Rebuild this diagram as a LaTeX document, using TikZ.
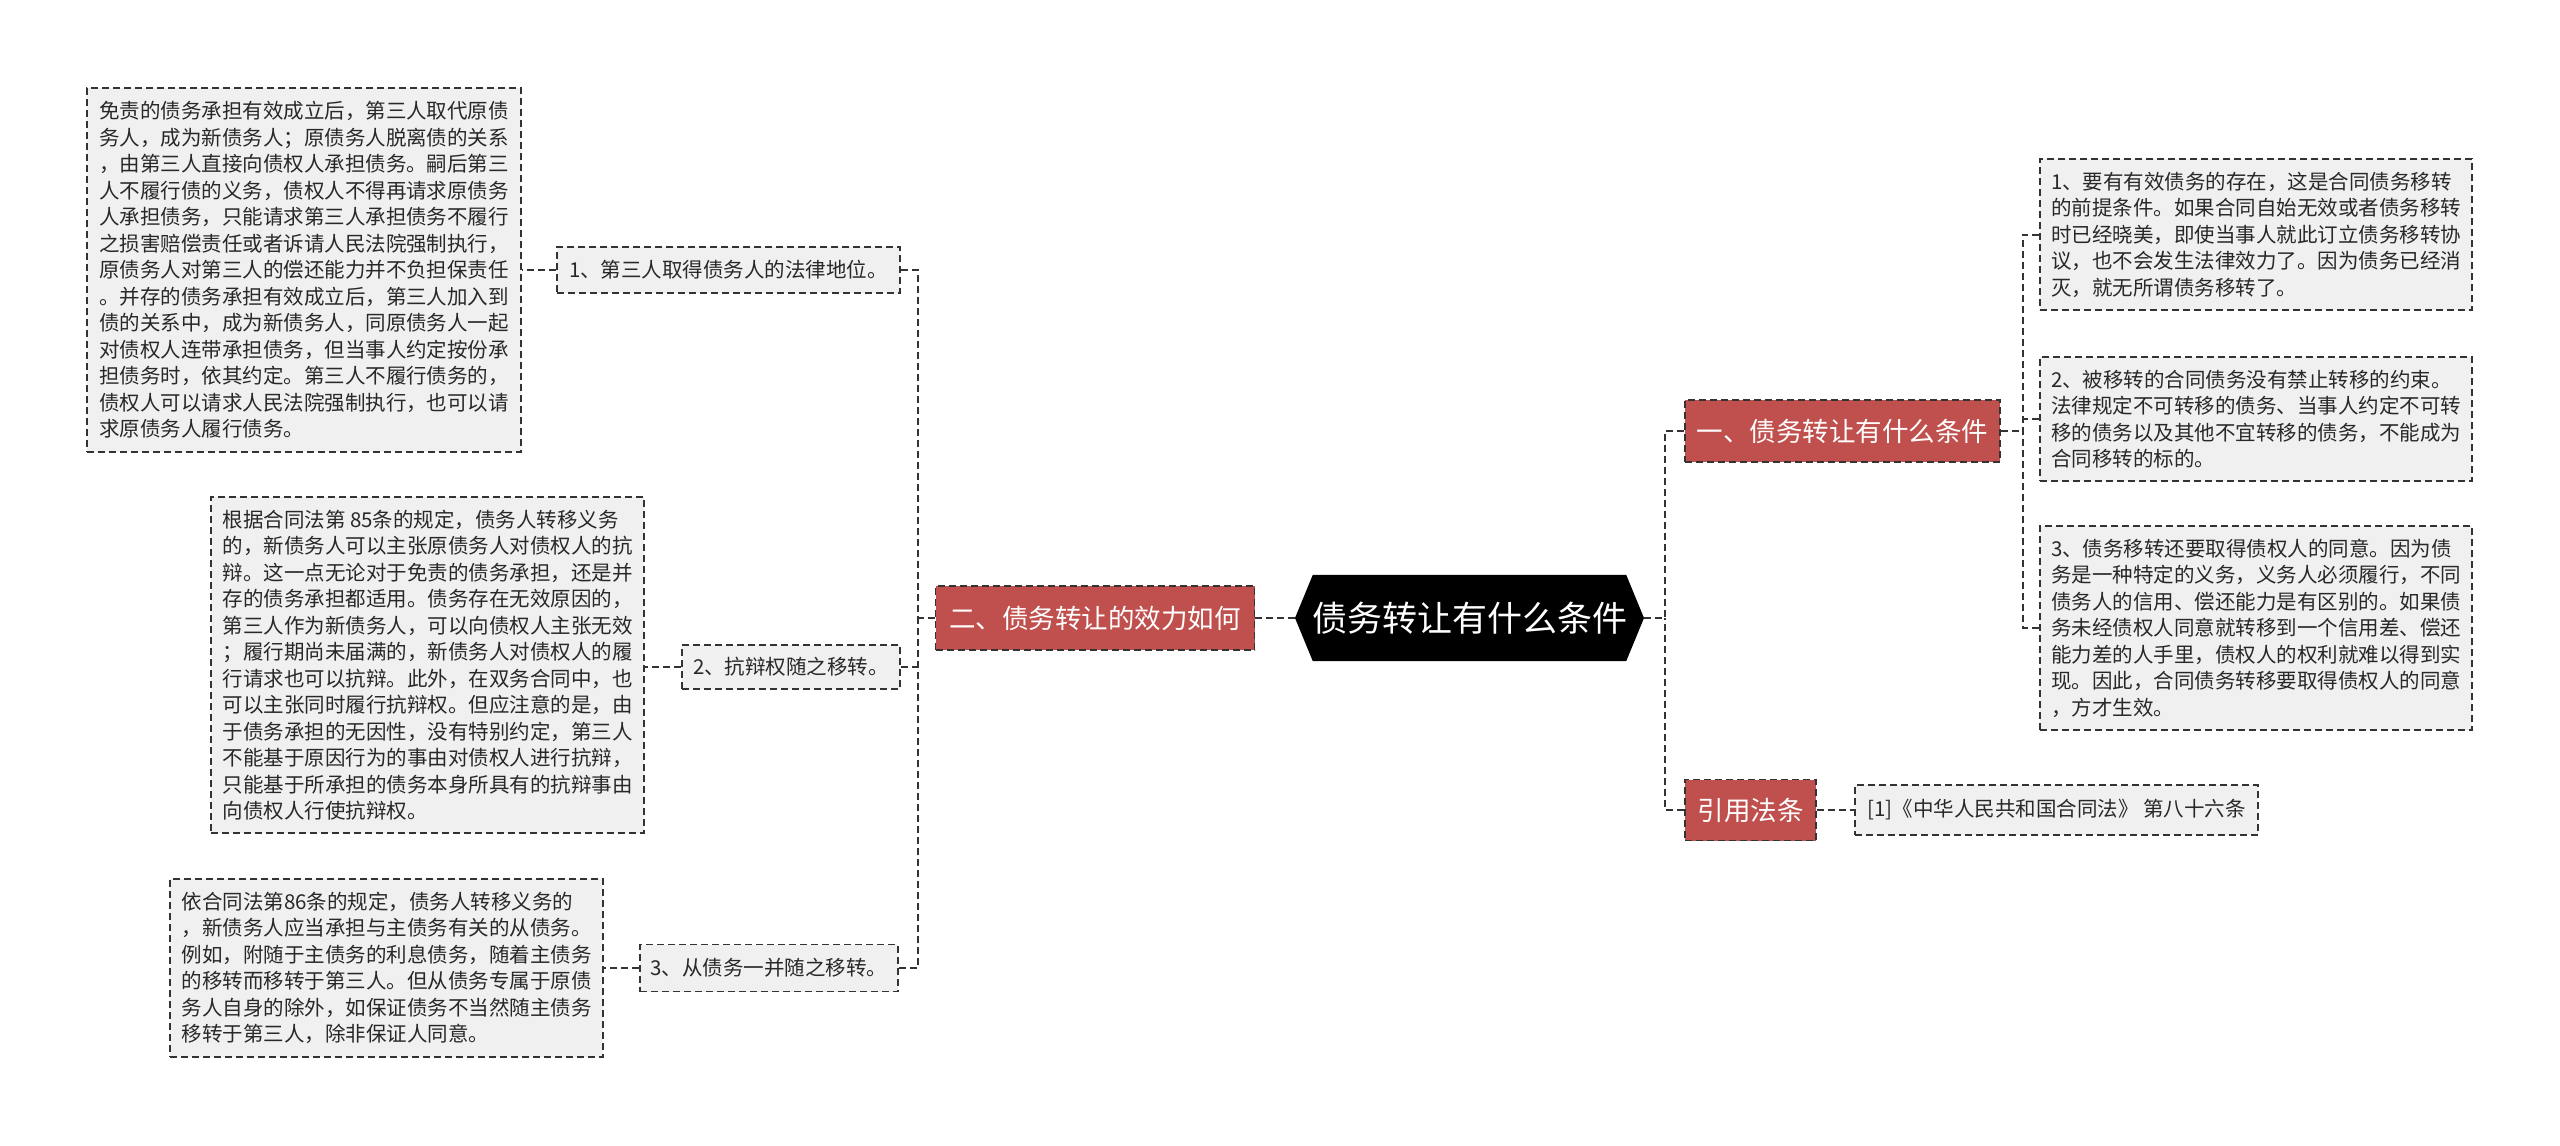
\documentclass[tikz,border=0pt]{standalone}
\usepackage{fontspec}
\newfontfamily\cjk{Noto Sans CJK SC}
\definecolor{redfill}{RGB}{192,80,77}
\definecolor{leaffill}{RGB}{240,240,240}
\definecolor{linec}{RGB}{51,51,51}
\definecolor{textc}{RGB}{40,40,40}
\begin{document}
\begin{tikzpicture}[x=1pt,y=-1pt,
  conn/.style={draw=linec, line width=2pt, dash pattern=on 7pt off 4pt},
  leaf/.style={draw=linec, fill=leaffill, line width=1.8pt, dash pattern=on 7pt off 4pt,
    font=\cjk\fontsize{20.5pt}{26.5pt}\selectfont, align=left, inner sep=0pt, text=textc},
  redbox/.style={draw=linec, fill=redfill, line width=1.8pt, dash pattern=on 7pt off 4pt,
    font=\cjk\fontsize{26.5pt}{32pt}\selectfont, text=white, inner sep=0pt},
  rootbox/.style={inner sep=0pt, font=\cjk\fontsize{35pt}{40pt}\selectfont, text=white}
]
\fill[white] (0,0) rectangle (2560,1146);
\useasboundingbox (0,0) rectangle (2560,1146);

% root
\node[rootbox, minimum width=313pt, minimum height=86pt] (root) at (1469.5,618) {};
\coordinate (rootL) at (1295,618);
\coordinate (rootR) at (1644,618);
\fill[black] (root.north west) -- (root.north east) -- (rootR) -- (root.south east) -- (root.south west) -- (rootL) -- cycle;
\node[rootbox] (roottext) at (1469.5,618) {债务转让有什么条件};

% level 1
\node[redbox, minimum width=319pt, minimum height=64pt] (two) at (1095,618) {二、债务转让的效力如何};
\node[redbox, minimum width=315pt, minimum height=62pt] (one) at (1842.5,431) {一、债务转让有什么条件};
\node[redbox, minimum width=131pt, minimum height=61pt] (ref) at (1750.5,810) {引用法条};

% left leaves
\node[leaf, minimum width=343pt, minimum height=46pt] (l1) at (728.5,270) {1、第三人取得债务人的法律地位。};
\node[leaf, minimum width=218pt, minimum height=44pt] (l2) at (791,667) {2、抗辩权随之移转。};
\node[leaf, minimum width=258pt, minimum height=47pt] (l3) at (769,968) {3、从债务一并随之移转。};

\node[leaf, minimum width=434pt, minimum height=364pt] (t1) at (304,270) {免责的债务承担有效成立后，第三人取代原债\\
务人，成为新债务人；原债务人脱离债的关系\\
，由第三人直接向债权人承担债务。嗣后第三\\
人不履行债的义务，债权人不得再请求原债务\\
人承担债务，只能请求第三人承担债务不履行\\
之损害赔偿责任或者诉请人民法院强制执行，\\
原债务人对第三人的偿还能力并不负担保责任\\
。并存的债务承担有效成立后，第三人加入到\\
债的关系中，成为新债务人，同原债务人一起\\
对债权人连带承担债务，但当事人约定按份承\\
担债务时，依其约定。第三人不履行债务的，\\
债权人可以请求人民法院强制执行，也可以请\\
求原债务人履行债务。};

\node[leaf, minimum width=433pt, minimum height=336pt] (t2) at (427.5,665) {根据合同法第 85条的规定，债务人转移义务\\
的，新债务人可以主张原债务人对债权人的抗\\
辩。这一点无论对于免责的债务承担，还是并\\
存的债务承担都适用。债务存在无效原因的，\\
第三人作为新债务人，可以向债权人主张无效\\
；履行期尚未届满的，新债务人对债权人的履\\
行请求也可以抗辩。此外，在双务合同中，也\\
可以主张同时履行抗辩权。但应注意的是，由\\
于债务承担的无因性，没有特别约定，第三人\\
不能基于原因行为的事由对债权人进行抗辩，\\
只能基于所承担的债务本身所具有的抗辩事由\\
向债权人行使抗辩权。};

\node[leaf, minimum width=433pt, minimum height=178pt] (t3) at (386.5,968) {依合同法第86条的规定，债务人转移义务的\\
，新债务人应当承担与主债务有关的从债务。\\
例如，附随于主债务的利息债务，随着主债务\\
的移转而移转于第三人。但从债务专属于原债\\
务人自身的除外，如保证债务不当然随主债务\\
移转于第三人，除非保证人同意。};

% right leaves
\node[leaf, minimum width=432pt, minimum height=151pt] (R1) at (2256,234.5) {1、要有有效债务的存在，这是合同债务移转\\
的前提条件。如果合同自始无效或者债务移转\\
时已经晓美，即使当事人就此订立债务移转协\\
议，也不会发生法律效力了。因为债务已经消\\
灭，就无所谓债务移转了。};
\node[leaf, minimum width=432pt, minimum height=124pt] (R2) at (2256,419) {2、被移转的合同债务没有禁止转移的约束。\\
法律规定不可转移的债务、当事人约定不可转\\
移的债务以及其他不宜转移的债务，不能成为\\
合同移转的标的。};
\node[leaf, minimum width=432pt, minimum height=204pt] (R3) at (2256,628) {3、债务移转还要取得债权人的同意。因为债\\
务是一种特定的义务，义务人必须履行，不同\\
债务人的信用、偿还能力是有区别的。如果债\\
务未经债权人同意就转移到一个信用差、偿还\\
能力差的人手里，债权人的权利就难以得到实\\
现。因此，合同债务转移要取得债权人的同意\\
，方才生效。};

\node[leaf, minimum width=403pt, minimum height=50pt] (cite) at (2056.5,810) {[1]《中华人民共和国合同法》 第八十六条};

% connectors
\coordinate (lb) at (918,618);
\coordinate (rb) at (1665,618);
\coordinate (rb2) at (2023,431);
\draw[conn] (rootL) -- (two.east);
\draw[conn] (two.west) -- (lb);
\draw[conn] (l1.east) -| (lb);
\draw[conn] (l3.east) -| (lb);
\draw[conn] (l2.east) -- (l2.east -| lb);
\draw[conn] (l1.west) -- (t1.east);
\draw[conn] (l2.west) -- (l2.west -| t2.east);
\draw[conn] (l3.west) -- (t3.east);

\draw[conn] (rootR) -- (rb);
\draw[conn] (one.west) -| (rb);
\draw[conn] (ref.west) -| (rb);
\draw[conn] (one.east) -- (rb2);
\draw[conn] (R1.west) -| (rb2);
\draw[conn] (R3.west) -| (rb2);
\draw[conn] (R2.west) -- (R2.west -| rb2);
\draw[conn] (ref.east) -- (cite.west);
\end{tikzpicture}
\end{document}
